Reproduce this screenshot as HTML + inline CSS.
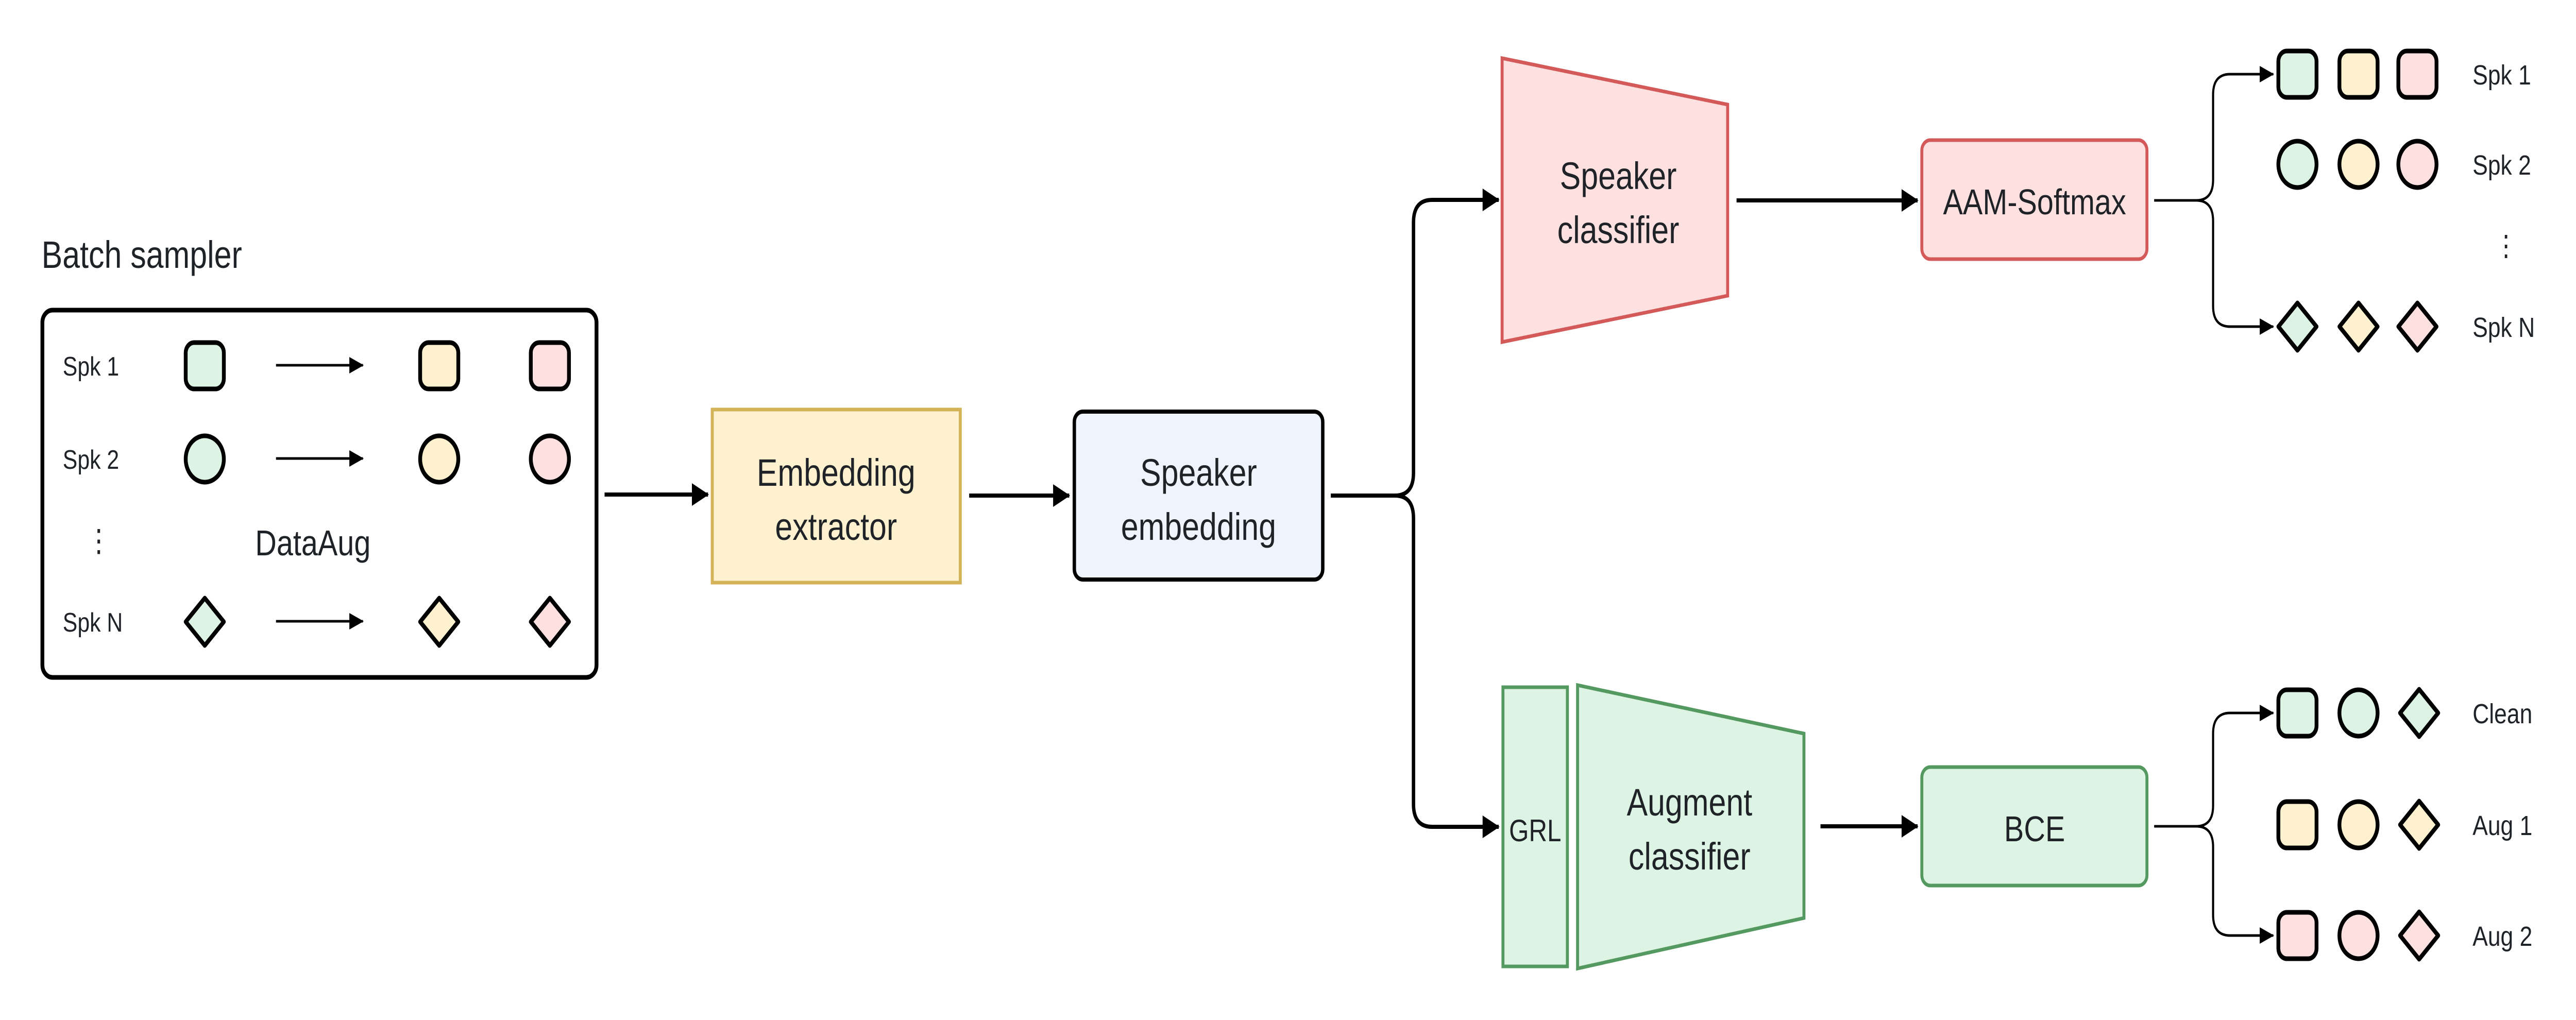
<!DOCTYPE html>
<html><head><meta charset="utf-8"><style>
html,body{margin:0;padding:0;background:#fff;width:100%;height:100%;overflow:hidden}
svg{display:block;position:fixed;left:0;top:0;width:100vw;height:100vh}
text{font-family:"Liberation Sans",sans-serif;fill:#1f2328}
</style></head><body>
<svg viewBox="0 0 6076 1980" preserveAspectRatio="none" xmlns="http://www.w3.org/2000/svg">
<defs>
<marker id="ah" markerUnits="userSpaceOnUse" markerWidth="40" markerHeight="44" refX="38" refY="22" orient="auto"><path d="M0,0 L40,22 L0,44 Z" fill="#000"/></marker>
<marker id="as" markerUnits="userSpaceOnUse" markerWidth="34" markerHeight="32" refX="32" refY="16" orient="auto"><path d="M0,0 L34,16 L0,32 Z" fill="#000"/></marker>
<g id="sq"><rect x="-45" y="-45" width="90" height="90" rx="20" stroke="#000" stroke-width="9"/></g>
<g id="ci"><circle r="45" stroke="#000" stroke-width="9"/></g>
<g id="di"><path d="M0,-46 L45,0 L0,46 L-45,0 Z" stroke="#000" stroke-width="9" stroke-linejoin="round"/></g>
</defs>

<text x="98" y="520" font-size="74">Batch sampler</text>
<rect x="100" y="602" width="1307" height="713" rx="24" fill="#fff" stroke="#000" stroke-width="9"/>
<text x="148" y="729" font-size="52">Spk 1</text>
<text x="148" y="910" font-size="52">Spk 2</text>
<text x="148" y="1226" font-size="52">Spk N</text>
<text x="203" y="1070" font-size="60">⋮</text>
<text x="738" y="1078" font-size="70" text-anchor="middle">DataAug</text>
<g fill="#ddf3e3"><use href="#sq" x="483" y="710"/><use href="#ci" x="483" y="891"/><use href="#di" x="483" y="1207"/></g>
<g fill="#fdf1cf"><use href="#sq" x="1036" y="710"/><use href="#ci" x="1036" y="891"/><use href="#di" x="1036" y="1207"/></g>
<g fill="#fde0e0"><use href="#sq" x="1297" y="710"/><use href="#ci" x="1297" y="891"/><use href="#di" x="1297" y="1207"/></g>
<g stroke="#000" stroke-width="5" fill="none">
<line x1="651" y1="709" x2="856" y2="709" marker-end="url(#as)"/>
<line x1="651" y1="890" x2="856" y2="890" marker-end="url(#as)"/>
<line x1="651" y1="1206" x2="856" y2="1206" marker-end="url(#as)"/>
</g>

<g stroke="#000" stroke-width="8" fill="none">
<line x1="1426" y1="960" x2="1670" y2="960" marker-end="url(#ah)"/>
<line x1="2286" y1="962" x2="2522" y2="962" marker-end="url(#ah)"/>
<path d="M3139,962 L3290,962 Q3334,962 3334,918 L3334,432 Q3334,388 3378,388 L3535,388" marker-end="url(#ah)"/>
<path d="M3290,962 Q3334,962 3334,1006 L3334,1561 Q3334,1605 3378,1605 L3535,1605" marker-end="url(#ah)"/>
<line x1="4096" y1="389" x2="4523" y2="389" marker-end="url(#ah)"/>
<line x1="4294" y1="1604" x2="4523" y2="1604" marker-end="url(#ah)"/>
</g>

<rect x="1680" y="795" width="585" height="336" fill="#fdf1cf" stroke="#d4b257" stroke-width="7"/>
<text x="1972" y="943" font-size="74" text-anchor="middle">Embedding</text>
<text x="1972" y="1048" font-size="74" text-anchor="middle">extractor</text>

<rect x="2534" y="799" width="586" height="326" rx="20" fill="#eef3fc" stroke="#000" stroke-width="8"/>
<text x="2827" y="943" font-size="74" text-anchor="middle">Speaker</text>
<text x="2827" y="1048" font-size="74" text-anchor="middle">embedding</text>

<path d="M3543,113 L4075,203 L4075,574 L3543,664 Z" fill="#fde0e0" stroke="#d45a5a" stroke-width="7"/>
<text x="3817" y="367" font-size="74" text-anchor="middle">Speaker</text>
<text x="3817" y="472" font-size="74" text-anchor="middle">classifier</text>

<rect x="3545" y="1334" width="152" height="542" fill="#ddf3e3" stroke="#54995f" stroke-width="7"/>
<text x="3621" y="1633" font-size="60" text-anchor="middle">GRL</text>
<path d="M3721,1330 L4255,1424 L4255,1782 L3721,1880 Z" fill="#ddf3e3" stroke="#54995f" stroke-width="7"/>
<text x="3985" y="1583" font-size="74" text-anchor="middle">Augment</text>
<text x="3985" y="1688" font-size="74" text-anchor="middle">classifier</text>

<rect x="4533" y="272" width="531" height="231" rx="20" fill="#fde0e0" stroke="#d45a5a" stroke-width="7"/>
<text x="4799" y="416" font-size="70" text-anchor="middle">AAM-Softmax</text>

<rect x="4533" y="1489" width="531" height="230" rx="20" fill="#ddf3e3" stroke="#54995f" stroke-width="7"/>
<text x="4799" y="1633" font-size="70" text-anchor="middle">BCE</text>

<g stroke="#000" stroke-width="5" fill="none">
<path d="M5081,389 L5180,389 Q5220,389 5220,349 L5220,184 Q5220,144 5260,144 L5362,144" marker-end="url(#as)"/>
<path d="M5180,389 Q5220,389 5220,429 L5220,594 Q5220,634 5260,634 L5362,634" marker-end="url(#as)"/>
<path d="M5081,1604 L5180,1604 Q5220,1604 5220,1564 L5220,1424 Q5220,1384 5260,1384 L5362,1384" marker-end="url(#as)"/>
<path d="M5180,1604 Q5220,1604 5220,1644 L5220,1776 Q5220,1816 5260,1816 L5362,1816" marker-end="url(#as)"/>
</g>

<g fill="#ddf3e3"><use href="#sq" x="5419" y="144"/><use href="#ci" x="5419" y="319"/><use href="#di" x="5419" y="634"/></g>
<g fill="#fdf1cf"><use href="#sq" x="5563" y="144"/><use href="#ci" x="5563" y="319"/><use href="#di" x="5563" y="634"/></g>
<g fill="#fde0e0"><use href="#sq" x="5702" y="144"/><use href="#ci" x="5702" y="319"/><use href="#di" x="5702" y="634"/></g>
<text x="5883" y="496" font-size="56">⋮</text>
<text x="5832" y="164" font-size="54">Spk 1</text>
<text x="5832" y="339" font-size="54">Spk 2</text>
<text x="5832" y="654" font-size="54">Spk N</text>

<g fill="#ddf3e3"><use href="#sq" x="5419" y="1384"/><use href="#ci" x="5563" y="1384"/><use href="#di" x="5706" y="1384"/></g>
<g fill="#fdf1cf"><use href="#sq" x="5419" y="1601"/><use href="#ci" x="5563" y="1601"/><use href="#di" x="5706" y="1601"/></g>
<g fill="#fde0e0"><use href="#sq" x="5419" y="1816"/><use href="#ci" x="5563" y="1816"/><use href="#di" x="5706" y="1816"/></g>
<text x="5832" y="1404" font-size="54">Clean</text>
<text x="5832" y="1621" font-size="54">Aug 1</text>
<text x="5832" y="1836" font-size="54">Aug 2</text>
</svg>
</body></html>
